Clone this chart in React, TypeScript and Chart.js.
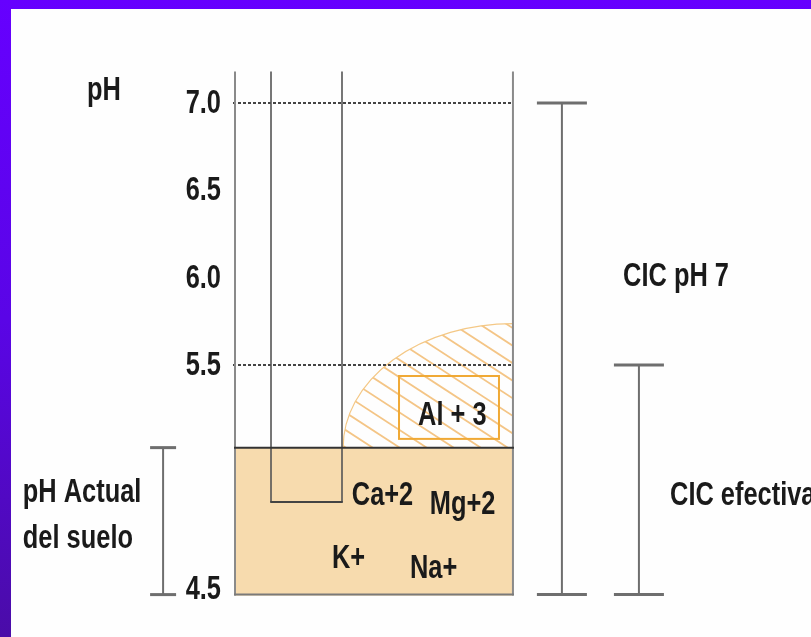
import React, { useEffect, useRef } from 'react';
import { Chart, registerables } from 'chart.js';

Chart.register(...registerables);

// ---- data ----
const yTickValues = [4.22, 5.5, 6.0, 6.5, 7.0];
const yTickLabels = ['4.5', '5.5', '6.0', '6.5', '7.0'];
const phRange = [4.18, 7.18];
const columnEdges = [0, 7.06, 20.98, 54.5];
const referenceLevels = [7.0, 5.5];
const pHActual = 5.027;
const caColumnBottom = 4.716;
const cicLabels = ['CIC pH 7', 'CIC efectiva'];
const cicX = [64.1, 79.2];
const cicTop = [7.0, 5.5];
const actualLabels = ['pH Actual', 'del suelo'];
const actualBracketX = -14.1;
const cationLabels = ['Ca+2', 'Mg+2', 'K+', 'Na+'];
const alLabel = 'Al + 3';
const alBoxX = [32.16, 51.76];
const alBoxY = [5.077, 5.437];
const acidityRadii = [33.3, 0.71];

// ---- layout of text (styling) ----
const cationPos = [
  [22.9, 4.699],
  [38.2, 4.647],
  [19.0, 4.338],
  [34.3, 4.281],
];
const alTextPos = [35.9, 5.157];
const cicTextPos = [
  [76.1, 5.953],
  [85.3, 4.699],
];
const actualTextPos = [
  [-41.6, 4.716],
  [-41.6, 4.453],
];
const phTitlePos = [-29.0, 7.017];

const FONT_FAMILY = '"Liberation Sans", Arial, sans-serif';
const FONT = `bold 33px ${FONT_FAMILY}`;
const SX = 0.77;

const drawPlugin = {
  id: 'soilDiagram',
  afterDraw(chart: any) {
    const ctx = chart.ctx as CanvasRenderingContext2D;
    const xs = chart.scales.x;
    const ys = chart.scales.y;
    const X = (v: number) => xs.getPixelForValue(v);
    const Y = (v: number) => ys.getPixelForValue(v);
    const left = X(columnEdges[0]);
    const right = X(columnEdges[3]);
    const top = Y(phRange[1]);
    const bottom = Y(phRange[0]);
    const soilY = Y(pHActual);

    ctx.save();
    // soil fill
    ctx.fillStyle = '#f7dbae';
    ctx.fillRect(left, soilY, right - left, bottom - soilY);

    // hatched acidity quarter ellipse
    const rx = X(acidityRadii[0]) - X(0);
    const ry = Y(pHActual) - Y(pHActual + acidityRadii[1]);
    ctx.save();
    ctx.beginPath();
    ctx.rect(left, top, right - left, soilY - top);
    ctx.clip();
    ctx.save();
    ctx.beginPath();
    ctx.ellipse(right, soilY, rx, ry, 0, 0, Math.PI * 2);
    ctx.clip();
    ctx.strokeStyle = '#f4c586';
    ctx.lineWidth = 1.8;
    const slope = 0.65;
    const sp = 27;
    for (let k = -20; k < 30; k++) {
      const x0 = right - rx - 250 + k * sp;
      ctx.beginPath();
      ctx.moveTo(x0, soilY - ry - 5);
      ctx.lineTo(x0 + 400, soilY - ry - 5 + 400 * slope);
      ctx.stroke();
    }
    ctx.restore();
    ctx.beginPath();
    ctx.ellipse(right, soilY, rx, ry, 0, Math.PI, Math.PI * 1.5);
    ctx.strokeStyle = '#f4c886';
    ctx.lineWidth = 1.2;
    ctx.stroke();
    ctx.restore();

    // Al box
    ctx.strokeStyle = '#f0a935';
    ctx.lineWidth = 2;
    ctx.strokeRect(X(alBoxX[0]), Y(alBoxY[1]), X(alBoxX[1]) - X(alBoxX[0]), Y(alBoxY[0]) - Y(alBoxY[1]));

    // dotted reference levels
    ctx.strokeStyle = '#444';
    ctx.lineWidth = 2;
    ctx.setLineDash([3, 2]);
    referenceLevels.forEach((lv) => {
      ctx.beginPath();
      ctx.moveTo(left - 2, Y(lv));
      ctx.lineTo(right, Y(lv));
      ctx.stroke();
    });
    ctx.setLineDash([]);

    const line = (x1: number, y1: number, x2: number, y2: number, color: string, w: number) => {
      ctx.beginPath();
      ctx.strokeStyle = color;
      ctx.lineWidth = w;
      ctx.moveTo(x1, y1);
      ctx.lineTo(x2, y2);
      ctx.stroke();
    };
    // vertical column lines
    line(left, top, left, bottom, '#8a8a8a', 2);
    line(right, top, right, bottom, '#8a8a8a', 2);
    const caBot = Y(caColumnBottom);
    line(X(columnEdges[1]), top, X(columnEdges[1]), caBot, '#555', 1.6);
    line(X(columnEdges[2]), top, X(columnEdges[2]), caBot, '#555', 1.6);
    line(X(columnEdges[1]) - 0.8, caBot, X(columnEdges[2]) + 0.8, caBot, '#444', 2);
    // soil top & bottom
    line(left - 1, soilY, right + 1, soilY, '#333', 2);
    line(left - 1, bottom - 1, right + 1, bottom - 1, '#7a7a7a', 2);

    // brackets
    const bracket = (xv: number, yTop: number, yBot: number, halfPx: number) => {
      const x = X(xv);
      const t = Y(yTop);
      const b = Y(yBot) - 1;
      line(x, t, x, b, '#6e6e6e', 2);
      line(x - halfPx, t, x + halfPx, t, '#6e6e6e', 3);
      line(x - halfPx, b, x + halfPx, b, '#6e6e6e', 3);
    };
    cicX.forEach((xv, i) => bracket(xv, cicTop[i], phRange[0], 25));
    bracket(actualBracketX, pHActual, phRange[0], 13);

    // texts (condensed grotesque look)
    ctx.fillStyle = '#1a1a1a';
    ctx.font = FONT;
    const drawText = (s: string, x: number, y: number, align: CanvasTextAlign, base: CanvasTextBaseline) => {
      ctx.save();
      ctx.translate(x, y);
      ctx.scale(SX, 1);
      ctx.textAlign = align;
      ctx.textBaseline = base;
      ctx.fillText(s, 0, 0);
      ctx.restore();
    };
    const txt = (s: string, p: number[]) => drawText(s, X(p[0]), Y(p[1]), 'left', 'alphabetic');
    txt('pH', phTitlePos);
    actualLabels.forEach((s, i) => txt(s, actualTextPos[i]));
    cicLabels.forEach((s, i) => txt(s, cicTextPos[i]));
    cationLabels.forEach((s, i) => txt(s, cationPos[i]));
    txt(alLabel, alTextPos);

    // y-axis tick labels from the scale's ticks
    ys.ticks.forEach((t: any, i: number) => {
      drawText(yTickLabels[i], ys.right - 14, ys.getPixelForValue(t.value) + 1, 'right', 'middle');
    });
    ctx.restore();
  },
};

export default function App() {
  const ref = useRef<HTMLCanvasElement | null>(null);
  useEffect(() => {
    document.body.style.margin = '0';
    const canvas = ref.current!;
    const chart = new Chart(canvas, {
      type: 'scatter',
      data: { datasets: [] },
      options: {
        animation: false,
        responsive: false,
        maintainAspectRatio: false,
        layout: { padding: { left: 175, right: 66, top: 71.5, bottom: 41.4 } },
        plugins: { legend: { display: false }, tooltip: { enabled: false } },
        events: [],
        scales: {
          x: { type: 'linear', min: 0, max: 100, display: false },
          y: {
            type: 'linear',
            min: phRange[0],
            max: phRange[1],
            grid: { display: false },
            border: { display: false },
            afterFit: (s: any) => {
              s.width = 60;
            },
            afterBuildTicks: (s: any) => {
              s.ticks = yTickValues.map((v) => ({ value: v }));
            },
            ticks: {
              display: false,
              autoSkip: false,
              callback: (_v: any, i: number) => yTickLabels[i],
            },
          },
        },
      },
      plugins: [drawPlugin],
    });
    return () => chart.destroy();
  }, []);

  return (
    <div
      style={{
        position: 'fixed',
        left: 0,
        top: 0,
        width: 811,
        height: 637,
        background: 'linear-gradient(180deg, #6600ff 0%, #5a05e6 50%, #4a0ca8 100%)',
        overflow: 'hidden',
      }}
    >
      <div style={{ position: 'absolute', left: 11, top: 9, right: 0, bottom: 0, background: '#fefefe' }} />
      <canvas ref={ref} width={811} height={637} style={{ position: 'absolute', left: 0, top: 0, width: 811, height: 637 }} />
    </div>
  );
}
